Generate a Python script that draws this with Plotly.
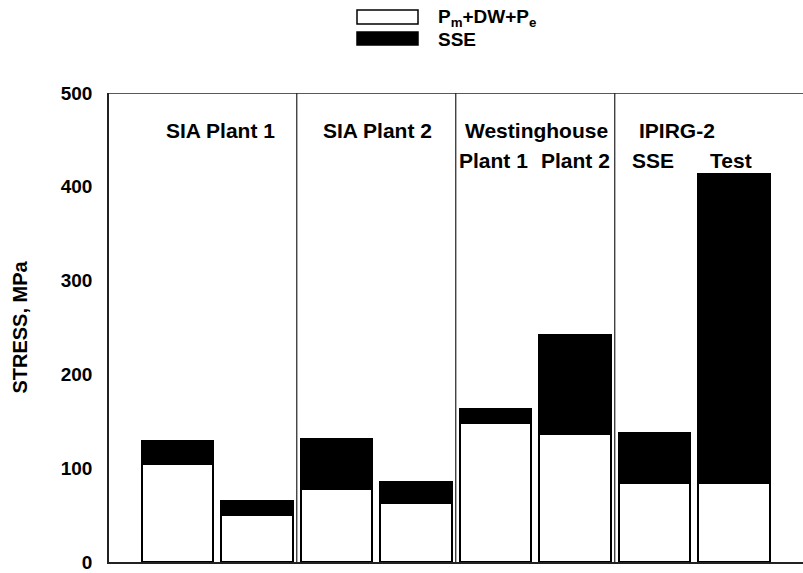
import plotly.graph_objects as go

# ---- data ----
bar_index = [0, 1, 2, 3, 4, 5, 6, 7]
base_stress = [104, 50, 78, 63, 148, 136, 84, 84]      # Pm+DW+Pe
sse_stress = [25, 15, 53, 22, 15, 106, 54, 330]        # SSE
y_ticks = [0, 100, 200, 300, 400, 500]
group_labels = ["SIA Plant 1", "SIA Plant 2", "Westinghouse", "IPIRG-2"]
sub_labels = ["Plant 1", "Plant 2", "SSE", "Test"]
legend_names = ["P<sub>m</sub>+DW+P<sub>e</sub>", "SSE"]

W, H = 803, 573
L, R, T, B = 109, 0, 93, 11
XMIN, XMAX = -0.862, 7.868
YMAX = 500

FONT = "Liberation Sans"

fig = go.Figure()
fig.add_trace(go.Bar(x=bar_index, y=base_stress, width=0.9,
                     marker=dict(color="white", line=dict(color="black", width=2)),
                     name="Pm+DW+Pe", showlegend=False))
fig.add_trace(go.Bar(x=bar_index, y=sse_stress, width=0.9,
                     marker=dict(color="black", line=dict(color="black", width=2)),
                     name="SSE", showlegend=False))

shapes = []
for xs in [1.5, 3.5, 5.5]:
    shapes.append(dict(type="line", xref="x", yref="y", x0=xs, x1=xs, y0=0, y1=YMAX,
                       line=dict(color="#222", width=1.2)))
shapes.append(dict(type="line", xref="paper", yref="y", x0=0, x1=1, y0=YMAX, y1=YMAX,
                   line=dict(color="#222", width=1.5)))

def py(p):
    return (H - B - p) / (H - T - B)
def px(p):
    return (p - L) / (W - L - R)

shapes.append(dict(type="rect", xref="paper", yref="paper", x0=px(357), x1=px(418),
                   y0=py(24), y1=py(10), fillcolor="white", line=dict(color="black", width=1.5)))
shapes.append(dict(type="rect", xref="paper", yref="paper", x0=px(357), x1=px(418),
                   y0=py(45), y1=py(32), fillcolor="black", line=dict(color="black", width=1.5)))

annotations = []
fs = 21
annotations.append(dict(x=px(436), y=py(18), xref="paper", yref="paper",
                        text="<b>%s</b>" % legend_names[0],
                        showarrow=False, xanchor="left", yanchor="middle", font=dict(size=19, family=FONT)))
annotations.append(dict(x=px(436), y=py(40), xref="paper", yref="paper", text="<b>%s</b>" % legend_names[1],
                        showarrow=False, xanchor="left", yanchor="middle", font=dict(size=19, family=FONT)))

group_x = [0.535, 2.52, 4.51, 6.28]
for gx, gl in zip(group_x, group_labels):
    annotations.append(dict(x=gx, y=459.5, xref="x", yref="y", text="<b>%s</b>" % gl, showarrow=False,
                            xanchor="center", yanchor="middle", font=dict(size=fs, family=FONT)))
sub_x = [3.98, 5.01, 5.98, 6.96]
for sx, sl in zip(sub_x, sub_labels):
    annotations.append(dict(x=sx, y=427.7, xref="x", yref="y", text="<b>%s</b>" % sl, showarrow=False,
                            xanchor="center", yanchor="middle", font=dict(size=fs, family=FONT)))

fig.update_layout(
    width=W, height=H,
    margin=dict(l=L, r=R, t=T, b=B, pad=0, autoexpand=False),
    barmode="stack",
    paper_bgcolor="white", plot_bgcolor="white",
    shapes=shapes, annotations=annotations,
    showlegend=False,
    font=dict(family=FONT, color="black"),
    xaxis=dict(range=[XMIN, XMAX], showticklabels=False, ticks="", showgrid=False, automargin=False,
               zeroline=False, showline=True, linecolor="#222", linewidth=1.5, fixedrange=True),
    yaxis=dict(range=[0, YMAX], tickvals=y_ticks, ticktext=["<b>%d</b>" % v for v in y_ticks],
               ticks="", showgrid=False, zeroline=False, showline=True, linecolor="#222",
               linewidth=1.5, tickfont=dict(size=19, family=FONT), ticklabelstandoff=11,
               ticklabeloverflow="allow", automargin=False,
               title=dict(text="<b>STRESS, MPa</b>", font=dict(size=20, family=FONT), standoff=28)),
)

fig.write_html("out.html")
